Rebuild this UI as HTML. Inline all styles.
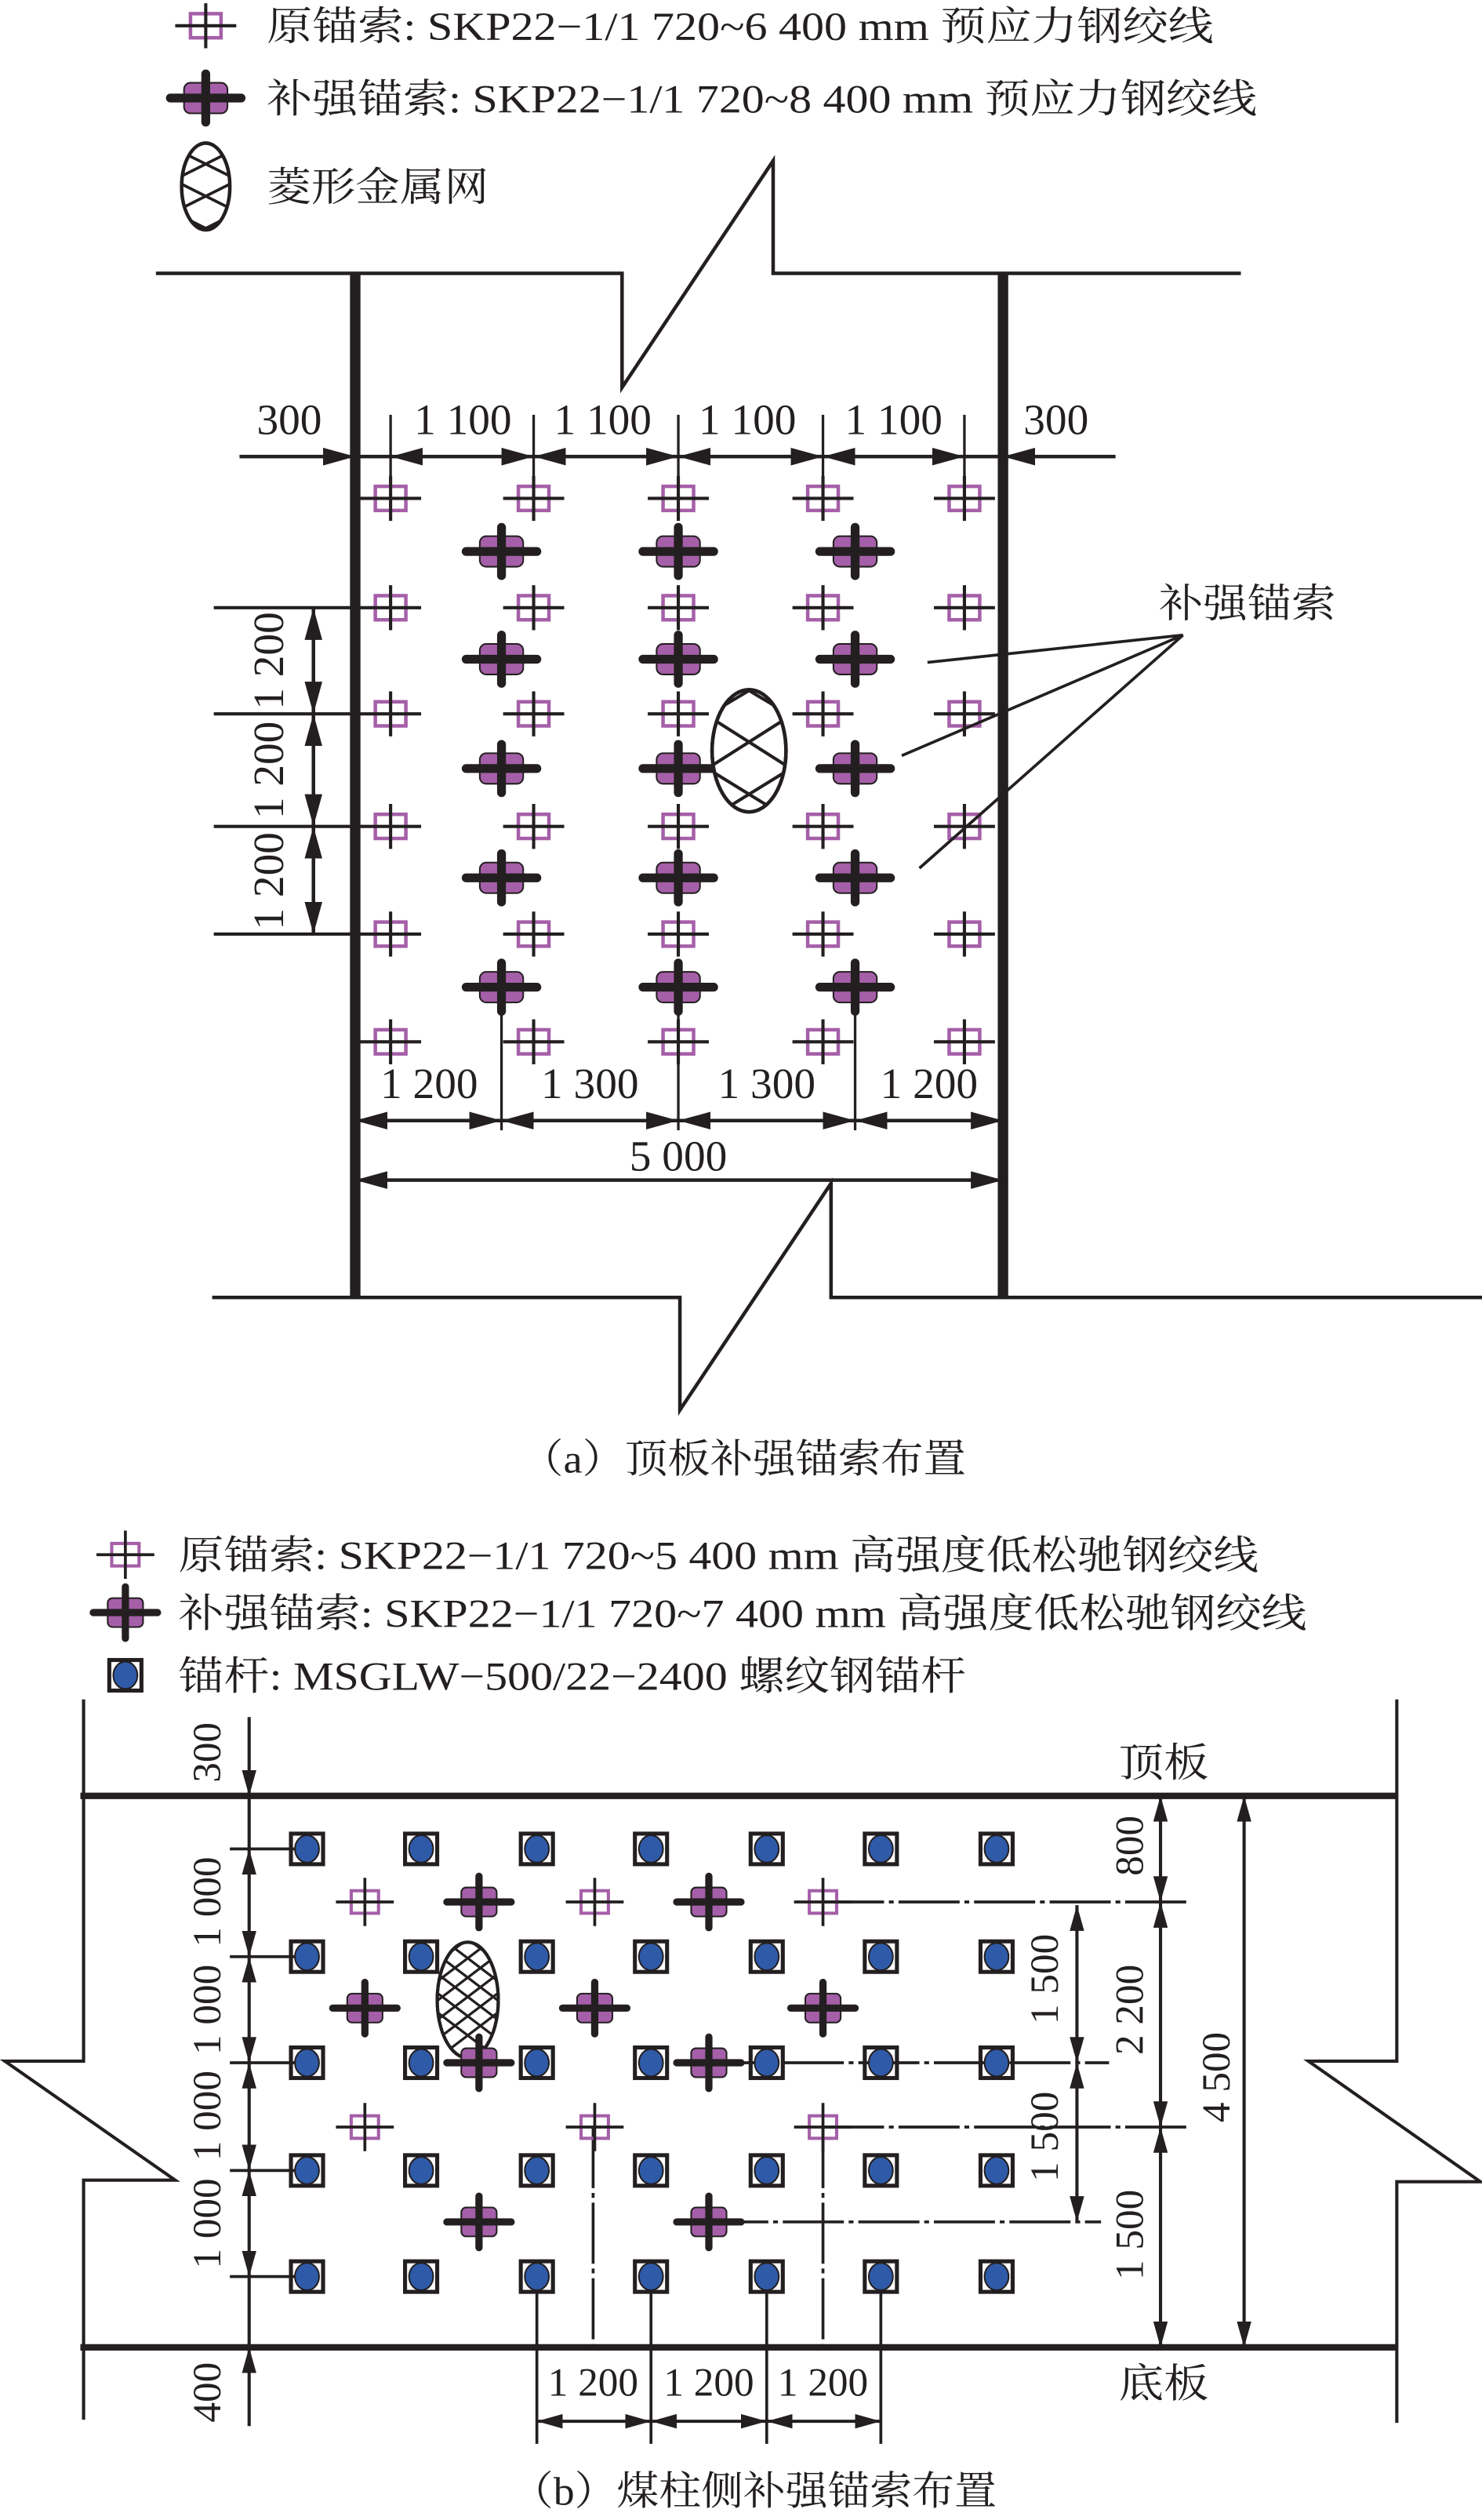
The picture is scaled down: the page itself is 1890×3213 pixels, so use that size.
<!DOCTYPE html>
<html><head><meta charset="utf-8"><style>html,body{margin:0;padding:0;background:#fff}svg{display:block}text{font-family:"Liberation Serif","Noto Serif CJK SC","Noto Sans CJK SC",serif;fill:#231f20}</style></head><body>
<svg width="1890" height="3213" viewBox="0 0 922 1567.4" preserveAspectRatio="none" xmlns="http://www.w3.org/2000/svg">
<defs>
<marker id="ar" viewBox="0 0 20 11" refX="20" refY="5.5" markerWidth="20" markerHeight="11" markerUnits="userSpaceOnUse" orient="auto-start-reverse"><path d="M0,0 L20,5.5 L0,11 z" fill="#231f20"/></marker>
<marker id="as" viewBox="0 0 16 9" refX="16" refY="4.5" markerWidth="16" markerHeight="9" markerUnits="userSpaceOnUse" orient="auto-start-reverse"><path d="M0,0 L16,4.5 L0,9 z" fill="#231f20"/></marker>
<g id="oa"><rect x="-9.5" y="-7.5" width="19" height="15" fill="none" stroke="#a55fa8" stroke-width="2.2"/><path d="M-19,0H19M0,-14V14" stroke="#231f20" stroke-width="2"/></g>
<g id="ra"><rect x="-13.5" y="-9.5" width="27" height="19" rx="4" fill="#a55fa8"/><path d="M-22,0H22M0,-15V15" stroke="#231f20" stroke-width="5.5" stroke-linecap="round"/></g>
<g id="ob"><rect x="-8.5" y="-7" width="17" height="14" fill="none" stroke="#a55fa8" stroke-width="2"/><path d="M-18,0H18M0,-15V15" stroke="#231f20" stroke-width="1.8"/></g>
<g id="rb"><rect x="-11" y="-9" width="22" height="18" rx="3" fill="#a55fa8"/><path d="M-20,0H20M0,-16V16" stroke="#231f20" stroke-width="4.5" stroke-linecap="round"/></g>
<g id="bt"><rect x="-10" y="-9.5" width="20" height="19" fill="none" stroke="#231f20" stroke-width="2.5"/><ellipse cx="0" cy="0" rx="7.5" ry="8.5" fill="#2f5aa8"/></g>
<clipPath id="ce1"><ellipse cx="466" cy="467" rx="23" ry="38"/></clipPath>
<clipPath id="ce2"><ellipse cx="291" cy="1244" rx="19" ry="36"/></clipPath>
<clipPath id="ce3"><ellipse cx="128" cy="116" rx="15" ry="27"/></clipPath>
</defs>
<g stroke="#231f20" fill="none">

<!-- legend a -->
<use href="#oa" x="128" y="16"/>
<use href="#ra" x="128" y="61"/>
<ellipse cx="128" cy="116" rx="15" ry="27" stroke-width="2.2"/>
<g clip-path="url(#ce3)" stroke-width="1.8"><path d="M108,92 L148,112 L108,132 L148,152 M148,92 L108,112 L148,132 L108,152 M108,72 L148,92 M148,72 L108,92"/></g>

<!-- walls a -->
<path d="M97,170H387V241L481,100V170H772" stroke-width="2.2"/>
<path d="M132,807H423V877L517,736V807H922" stroke-width="2.2"/>
<path d="M221,170V807M624,170V807" stroke-width="6.5"/>

<!-- top dims a -->
<path d="M243,258V298M332,258V298M422,258V298M512,258V298M600,258V298" stroke-width="1.6"/>
<path d="M149,284H221" stroke-width="2.2" marker-end="url(#ar)"/>
<path d="M694,284H624" stroke-width="2.2" marker-end="url(#ar)"/>
<path d="M221,284H243M600,284H624" stroke-width="2.2"/>
<path d="M243,284H332" stroke-width="2.2" marker-start="url(#ar)" marker-end="url(#ar)"/>
<path d="M332,284H422" stroke-width="2.2" marker-start="url(#ar)" marker-end="url(#ar)"/>
<path d="M422,284H512" stroke-width="2.2" marker-start="url(#ar)" marker-end="url(#ar)"/>
<path d="M512,284H600" stroke-width="2.2" marker-start="url(#ar)" marker-end="url(#ar)"/>

<!-- left dims a -->
<path d="M133,378H221M133,444H221M133,514H221M133,581H221" stroke-width="2"/>
<path d="M195,378V444" stroke-width="2.2" marker-start="url(#ar)" marker-end="url(#ar)"/>
<path d="M195,444V514" stroke-width="2.2" marker-start="url(#ar)" marker-end="url(#ar)"/>
<path d="M195,514V581" stroke-width="2.2" marker-start="url(#ar)" marker-end="url(#ar)"/>

<!-- bottom dims a -->
<path d="M312,614V703M422,614V703M532,614V703" stroke-width="1.6"/>
<path d="M221,697H312" stroke-width="2.2" marker-start="url(#ar)" marker-end="url(#ar)"/>
<path d="M312,697H422" stroke-width="2.2" marker-start="url(#ar)" marker-end="url(#ar)"/>
<path d="M422,697H532" stroke-width="2.2" marker-start="url(#ar)" marker-end="url(#ar)"/>
<path d="M532,697H624" stroke-width="2.2" marker-start="url(#ar)" marker-end="url(#ar)"/>
<path d="M221,734H624" stroke-width="2.2" marker-start="url(#ar)" marker-end="url(#ar)"/>

<!-- anchors a -->
<g>
<use href="#oa" x="243" y="310"/><use href="#oa" x="332" y="310"/><use href="#oa" x="422" y="310"/><use href="#oa" x="512" y="310"/><use href="#oa" x="600" y="310"/>
<use href="#oa" x="243" y="378"/><use href="#oa" x="332" y="378"/><use href="#oa" x="422" y="378"/><use href="#oa" x="512" y="378"/><use href="#oa" x="600" y="378"/>
<use href="#oa" x="243" y="444"/><use href="#oa" x="332" y="444"/><use href="#oa" x="422" y="444"/><use href="#oa" x="512" y="444"/><use href="#oa" x="600" y="444"/>
<use href="#oa" x="243" y="514"/><use href="#oa" x="332" y="514"/><use href="#oa" x="422" y="514"/><use href="#oa" x="512" y="514"/><use href="#oa" x="600" y="514"/>
<use href="#oa" x="243" y="581"/><use href="#oa" x="332" y="581"/><use href="#oa" x="422" y="581"/><use href="#oa" x="512" y="581"/><use href="#oa" x="600" y="581"/>
<use href="#oa" x="243" y="648"/><use href="#oa" x="332" y="648"/><use href="#oa" x="422" y="648"/><use href="#oa" x="512" y="648"/><use href="#oa" x="600" y="648"/>
<use href="#ra" x="312" y="343"/><use href="#ra" x="422" y="343"/><use href="#ra" x="532" y="343"/>
<use href="#ra" x="312" y="410"/><use href="#ra" x="422" y="410"/><use href="#ra" x="532" y="410"/>
<use href="#ra" x="312" y="478"/><use href="#ra" x="422" y="478"/><use href="#ra" x="532" y="478"/>
<use href="#ra" x="312" y="546"/><use href="#ra" x="422" y="546"/><use href="#ra" x="532" y="546"/>
<use href="#ra" x="312" y="614"/><use href="#ra" x="422" y="614"/><use href="#ra" x="532" y="614"/>
</g>
<ellipse cx="466" cy="467" rx="23" ry="38" fill="#fff" stroke-width="2.2"/>
<g clip-path="url(#ce1)" stroke-width="2"><path d="M440,414 L492,445 L440,478 L492,510 L440,540 M492,414 L440,445 L492,478 L440,510 L492,540"/></g>
<ellipse cx="466" cy="467" rx="23" ry="38" stroke-width="2.2"/>

<!-- leaders -->
<path d="M736,395L577,412M736,395L561,470M736,395L572,540" stroke-width="1.8"/>

<!-- legend b -->
<use href="#ob" x="78" y="967"/>
<use href="#rb" x="78" y="1003"/>
<use href="#bt" x="78" y="1042"/>

<!-- walls b -->
<path d="M52,1057V1282H3L109,1356H52V1505" stroke-width="2"/>
<path d="M869,1057V1282H814L921,1357H869V1507" stroke-width="2"/>
<path d="M50,1117H869M50,1460H869" stroke-width="4"/>

<!-- left dims b -->
<path d="M143,1150H191M143,1217H191M143,1283H191M143,1350H191M143,1416H191" stroke-width="1.8"/>
<path d="M155,1068V1117" stroke-width="2" marker-end="url(#as)"/>
<path d="M155,1117V1150" stroke-width="2"/>
<path d="M155,1150V1217" stroke-width="2" marker-start="url(#as)" marker-end="url(#as)"/>
<path d="M155,1217V1283" stroke-width="2" marker-start="url(#as)" marker-end="url(#as)"/>
<path d="M155,1283V1350" stroke-width="2" marker-start="url(#as)" marker-end="url(#as)"/>
<path d="M155,1350V1416" stroke-width="2" marker-start="url(#as)" marker-end="url(#as)"/>
<path d="M155,1416V1460" stroke-width="2"/>
<path d="M155,1509V1460" stroke-width="2" marker-end="url(#as)"/>

<!-- right dims b -->
<g stroke-width="1.8" stroke-dasharray="38 3 3 3">
<path d="M512,1183H738M512,1323H740M440,1283H690M440,1382H685"/>
<path d="M369,1323V1460M512,1323V1460"/>
</g>
<path d="M722,1117V1183" stroke-width="2" marker-start="url(#as)" marker-end="url(#as)"/>
<path d="M722,1183V1323" stroke-width="2" marker-start="url(#as)" marker-end="url(#as)"/>
<path d="M722,1323V1460" stroke-width="2" marker-start="url(#as)" marker-end="url(#as)"/>
<path d="M670,1185V1283" stroke-width="2" marker-start="url(#as)" marker-end="url(#as)"/>
<path d="M670,1283V1382" stroke-width="2" marker-start="url(#as)" marker-end="url(#as)"/>
<path d="M774,1117V1460" stroke-width="2" marker-start="url(#as)" marker-end="url(#as)"/>

<!-- bottom dims b -->
<path d="M334,1416V1520M405,1416V1520M477,1416V1520M548,1416V1520" stroke-width="1.8"/>
<path d="M334,1506H405" stroke-width="2" marker-start="url(#as)" marker-end="url(#as)"/>
<path d="M405,1506H477" stroke-width="2" marker-start="url(#as)" marker-end="url(#as)"/>
<path d="M477,1506H548" stroke-width="2" marker-start="url(#as)" marker-end="url(#as)"/>

<!-- bolts b -->
<use href="#bt" x="191" y="1150"/><use href="#bt" x="262" y="1150"/><use href="#bt" x="334" y="1150"/><use href="#bt" x="405" y="1150"/><use href="#bt" x="477" y="1150"/><use href="#bt" x="548" y="1150"/><use href="#bt" x="620" y="1150"/>
<use href="#bt" x="191" y="1217"/><use href="#bt" x="262" y="1217"/><use href="#bt" x="334" y="1217"/><use href="#bt" x="405" y="1217"/><use href="#bt" x="477" y="1217"/><use href="#bt" x="548" y="1217"/><use href="#bt" x="620" y="1217"/>
<use href="#bt" x="191" y="1283"/><use href="#bt" x="262" y="1283"/><use href="#bt" x="334" y="1283"/><use href="#bt" x="405" y="1283"/><use href="#bt" x="477" y="1283"/><use href="#bt" x="548" y="1283"/><use href="#bt" x="620" y="1283"/>
<use href="#bt" x="191" y="1350"/><use href="#bt" x="262" y="1350"/><use href="#bt" x="334" y="1350"/><use href="#bt" x="405" y="1350"/><use href="#bt" x="477" y="1350"/><use href="#bt" x="548" y="1350"/><use href="#bt" x="620" y="1350"/>
<use href="#bt" x="191" y="1416"/><use href="#bt" x="262" y="1416"/><use href="#bt" x="334" y="1416"/><use href="#bt" x="405" y="1416"/><use href="#bt" x="477" y="1416"/><use href="#bt" x="548" y="1416"/><use href="#bt" x="620" y="1416"/>

<!-- anchors b -->
<use href="#ob" x="227" y="1183"/><use href="#rb" x="298" y="1183"/><use href="#ob" x="370" y="1183"/><use href="#rb" x="441" y="1183"/><use href="#ob" x="512" y="1183"/>
<use href="#rb" x="227" y="1249"/><use href="#rb" x="370" y="1249"/><use href="#rb" x="512" y="1249"/>
<use href="#ob" x="227" y="1323"/><use href="#ob" x="370" y="1323"/><use href="#ob" x="512" y="1323"/>
<use href="#rb" x="441" y="1382"/><use href="#rb" x="298" y="1382"/>
<ellipse cx="291" cy="1244" rx="19" ry="36" fill="#fff" stroke-width="2"/>
<g clip-path="url(#ce2)" stroke-width="1.6"><path d="M262,1196L320,1240M262,1208L320,1252M262,1220L320,1264M262,1232L320,1276M262,1244L320,1288M262,1184L320,1228M262,1172L320,1216M262,1160L320,1204M320,1196L262,1240M320,1208L262,1252M320,1220L262,1264M320,1232L262,1276M320,1244L262,1288M320,1184L262,1228M320,1172L262,1216M320,1160L262,1204"/></g>
<ellipse cx="291" cy="1244" rx="19" ry="36" stroke-width="2"/>
<use href="#rb" x="298" y="1283"/><use href="#rb" x="441" y="1283"/>
</g>

<!-- texts -->
<g font-size="25">
<text x="166" y="25" textLength="589" lengthAdjust="spacingAndGlyphs">原锚索: SKP22−1/1 720~6 400 mm 预应力钢绞线</text>
<text x="166" y="70" textLength="616" lengthAdjust="spacingAndGlyphs">补强锚索: SKP22−1/1 720~8 400 mm 预应力钢绞线</text>
<text x="166" y="125" textLength="138" lengthAdjust="spacingAndGlyphs">菱形金属网</text>
<text x="721" y="384" textLength="110" lengthAdjust="spacingAndGlyphs">补强锚索</text>
<text x="324" y="916" textLength="277" lengthAdjust="spacingAndGlyphs">（a）顶板补强锚索布置</text>
<text x="111" y="976" textLength="672" lengthAdjust="spacingAndGlyphs">原锚索: SKP22−1/1 720~5 400 mm 高强度低松驰钢绞线</text>
<text x="111" y="1012" textLength="702" lengthAdjust="spacingAndGlyphs">补强锚索: SKP22−1/1 720~7 400 mm 高强度低松驰钢绞线</text>
<text x="111" y="1051" textLength="490" lengthAdjust="spacingAndGlyphs">锚杆: MSGLW−500/22−2400 螺纹钢锚杆</text>
<text x="696" y="1105" textLength="56" lengthAdjust="spacingAndGlyphs">顶板</text>
<text x="696" y="1491" textLength="56" lengthAdjust="spacingAndGlyphs">底板</text>
<text x="318" y="1558" textLength="302" lengthAdjust="spacingAndGlyphs">（b）煤柱侧补强锚索布置</text>
</g>
<g font-size="27" text-anchor="middle">
<text x="180" y="270">300</text>
<text x="288" y="270">1 100</text>
<text x="375" y="270">1 100</text>
<text x="465" y="270">1 100</text>
<text x="556" y="270">1 100</text>
<text x="657" y="270">300</text>
<text x="267" y="683">1 200</text>
<text x="367" y="683">1 300</text>
<text x="477" y="683">1 300</text>
<text x="578" y="683">1 200</text>
<text x="422" y="728">5 000</text>
<text transform="translate(176,411) rotate(-90)">1 200</text>
<text transform="translate(176,479) rotate(-90)">1 200</text>
<text transform="translate(176,548) rotate(-90)">1 200</text>
</g>
<g font-size="25" text-anchor="middle">
<text transform="translate(137,1090) rotate(-90)">300</text>
<text transform="translate(137,1183) rotate(-90)">1 000</text>
<text transform="translate(137,1250) rotate(-90)">1 000</text>
<text transform="translate(137,1316) rotate(-90)">1 000</text>
<text transform="translate(137,1383) rotate(-90)">1 000</text>
<text transform="translate(137,1488) rotate(-90)">400</text>
<text transform="translate(711,1148) rotate(-90)">800</text>
<text transform="translate(711,1250) rotate(-90)">2 200</text>
<text transform="translate(711,1390) rotate(-90)">1 500</text>
<text transform="translate(658,1231) rotate(-90)">1 500</text>
<text transform="translate(658,1329) rotate(-90)">1 500</text>
<text transform="translate(765,1292) rotate(-90)">4 500</text>
<text x="369" y="1490">1 200</text>
<text x="441" y="1490">1 200</text>
<text x="512" y="1490">1 200</text>
</g>
</svg>
</body></html>
